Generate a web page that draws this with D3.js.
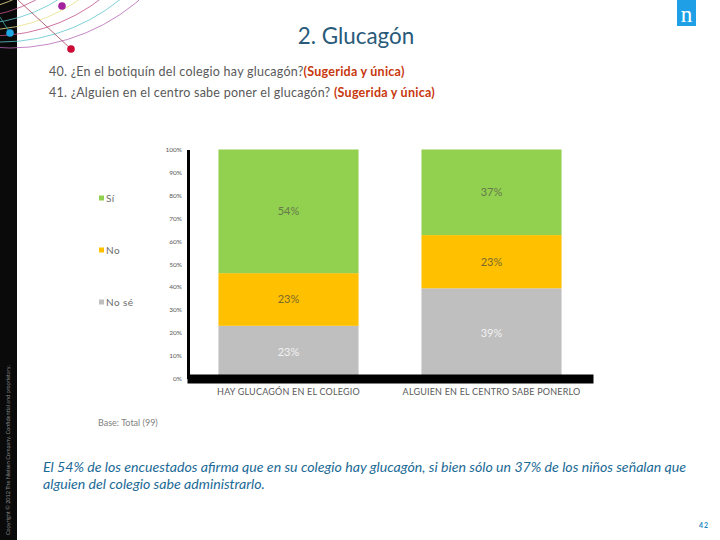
<!DOCTYPE html>
<html>
<head>
<meta charset="utf-8">
<script src="https://cdn.jsdelivr.net/npm/d3@7"></script>
<style>
  html, body { margin: 0; padding: 0; background: #fff; }
  svg { display: block; }
  text { font-family: Lato, "Open Sans", sans-serif; }
</style>
</head>
<body>
<div id="chart"></div>
<script>
// Data
const categories = ["HAY GLUCAGÓN EN EL COLEGIO", "ALGUIEN EN EL CENTRO SABE PONERLO"];
const seriesNames = ["No sé", "No", "Sí"];
const noSeValues = [23, 39];
const noValues = [23, 23];
const siValues = [54, 37];
const tickValues = [0, 0.1, 0.2, 0.3, 0.4, 0.5, 0.6, 0.7, 0.8, 0.9, 1];

const title = "2. Glucagón";
const questions = [
  ["40. ¿En el botiquín del colegio hay glucagón?", "(Sugerida y única)"],
  ["41. ¿Alguien en el centro sabe poner el glucagón? ", "(Sugerida y única)"]
];
const baseNote = "Base: Total (99)";
const conclusion = [
  "El 54% de los encuestados afirma que en su colegio hay glucagón, si bien sólo un 37% de los niños señalan que",
  "alguien del colegio sabe administrarlo."
];
const copyright = "Copyright © 2012 The Nielsen Company. Confidential and proprietary.";

// SVG constants
const width = 720, height = 540;
const colors = { "Sí": "#92D050", "No": "#FFC000", "No sé": "#BFBFBF" };
const legendY = { "Sí": 198, "No": 250, "No sé": 302 };
const labelColors = { "Sí": "#667a4c", "No": "#7a6a2a", "No sé": "#f2f2f2" };

const svg = d3.select("#chart").append("svg")
  .attr("width", width)
  .attr("height", height);

// Left strip and decoration
svg.append("rect")
  .attr("width", 17).attr("height", height)
  .attr("fill", "#0a0a0a");

svg.append("text")
  .attr("transform", "translate(10,535) rotate(-90)")
  .attr("font-size", 5.5)
  .attr("fill", "#8a8a8a")
  .text(copyright);

const arcColors = ["#b566b5", "#5fc4cf", "#c0508a", "#e8e08a", "#5fc4cf", "#c0508a", "#f0e48c", "#5fc4cf", "#b566b5"];
svg.selectAll("circle.arc")
  .data(arcColors)
  .join("circle")
  .attr("class", "arc")
  .attr("cx", (d, i) => 10 - i * 9)
  .attr("cy", (d, i) => -150 + i * 4)
  .attr("r", (d, i) => 198 - i * 10)
  .attr("fill", "none")
  .attr("stroke", d => d)
  .attr("stroke-width", 0.8);

svg.append("line")
  .attr("x1", 18).attr("y1", 0).attr("x2", 71).attr("y2", 49)
  .attr("stroke", "#a0405a").attr("stroke-width", 0.8);
svg.append("line")
  .attr("x1", 0).attr("y1", 17).attr("x2", 10).attr("y2", 33)
  .attr("stroke", "#3fb0b0").attr("stroke-width", 0.8);

svg.append("circle").attr("cx", 62).attr("cy", 6).attr("r", 3.8).attr("fill", "#a3209f");
svg.append("circle").attr("cx", 10).attr("cy", 33).attr("r", 3.8).attr("fill", "#1ea7e6");
svg.append("circle").attr("cx", 71).attr("cy", 49).attr("r", 3.8).attr("fill", "#cc0a35");

// Logo
svg.append("rect")
  .attr("x", 677).attr("y", 0).attr("width", 19).attr("height", 26)
  .attr("fill", "#1e9fe6");
svg.append("text")
  .attr("x", 686.5).attr("y", 22)
  .attr("text-anchor", "middle")
  .attr("font-size", 23)
  .attr("fill", "#fff")
  .style("font-family", "'Liberation Serif', serif")
  .text("n");

// Headings
svg.append("text")
  .attr("x", 356).attr("y", 44)
  .attr("text-anchor", "middle")
  .attr("font-size", 22.4)
  .attr("fill", "#2a5a7a")
  .text(title);

questions.forEach((q, i) => {
  const t = svg.append("text")
    .attr("x", 49).attr("y", 76 + i * 21)
    .attr("font-size", 12.5)
    .attr("letter-spacing", 0.25)
    .attr("fill", "#595959");
  t.append("tspan").text(q[0]);
  t.append("tspan").attr("fill", "#c8380e").attr("font-weight", 700).text(q[1]);
});

// Scales
const x = d3.scaleBand()
  .domain(categories)
  .range([187, 593])
  .paddingInner(0.31)
  .paddingOuter(0.155);

const y = d3.scaleLinear()
  .domain([0, 1])
  .range([378.5, 149.5]);

// Bars, each column scaled to its own total
const rows = categories.map((c, i) => ({
  category: c,
  "No sé": noSeValues[i],
  "No": noValues[i],
  "Sí": siValues[i]
}));

const stacked = d3.stack()
  .keys(seriesNames)
  .offset(d3.stackOffsetExpand)(rows);

const layers = svg.selectAll("g.layer")
  .data(stacked)
  .join("g")
  .attr("class", "layer")
  .attr("fill", d => colors[d.key]);

layers.selectAll("rect")
  .data(d => d)
  .join("rect")
  .attr("x", d => x(d.data.category))
  .attr("y", d => y(d[1]))
  .attr("width", x.bandwidth())
  .attr("height", d => y(d[0]) - y(d[1]));

layers.each(function (layer) {
  d3.select(this).selectAll("text")
    .data(layer)
    .join("text")
    .attr("x", d => x(d.data.category) + x.bandwidth() / 2)
    .attr("y", d => (y(d[0]) + y(d[1])) / 2)
    .attr("dy", "0.35em")
    .attr("text-anchor", "middle")
    .attr("font-size", 11)
    .attr("fill", labelColors[layer.key])
    .text(d => d.data[layer.key] + "%");
});

// Axes
const yAxis = svg.append("g")
  .attr("transform", "translate(188,0)")
  .call(d3.axisLeft(y).tickValues(tickValues).tickFormat(d3.format(".0%")).tickSize(0).tickPadding(6));
yAxis.select(".domain").attr("stroke", "#000").attr("stroke-width", 3);
yAxis.selectAll("text")
  .attr("font-size", 6.5)
  .attr("fill", "#595959")
  .style("font-family", "Lato, 'Open Sans', sans-serif");

const xAxis = svg.append("g")
  .attr("transform", "translate(0,378.5)")
  .call(d3.axisBottom(x).tickSize(0).tickPadding(10).tickSizeOuter(0));
xAxis.select(".domain").attr("stroke", "#000").attr("stroke-width", 9);
xAxis.selectAll("text")
  .attr("font-size", 9)
  .attr("letter-spacing", 0.2)
  .attr("fill", "#595959")
  .style("font-family", "Lato, 'Open Sans', sans-serif");

// Legend
const legend = svg.selectAll("g.legend")
  .data(seriesNames)
  .join("g")
  .attr("class", "legend")
  .attr("transform", d => `translate(99,${legendY[d]})`);
legend.append("rect")
  .attr("y", -2.5).attr("width", 5).attr("height", 5)
  .attr("fill", d => colors[d]);
legend.append("text")
  .attr("x", 7).attr("dy", "0.35em")
  .attr("font-size", 10)
  .attr("letter-spacing", 0.4)
  .attr("fill", "#6b6b6b")
  .text(d => d);

// Notes
svg.append("text")
  .attr("x", 98).attr("y", 426)
  .attr("font-size", 9)
  .attr("fill", "#7f7f7f")
  .text(baseNote);

svg.selectAll("text.conclusion")
  .data(conclusion)
  .join("text")
  .attr("class", "conclusion")
  .attr("x", 43)
  .attr("y", (d, i) => 472 + i * 17)
  .attr("font-size", 14.15)
  .attr("font-style", "italic")
  .attr("fill", "#1b6a96")
  .text(d => d);

svg.append("text")
  .attr("x", 704).attr("y", 528)
  .attr("text-anchor", "middle")
  .attr("font-size", 7)
  .attr("font-weight", 700)
  .attr("letter-spacing", 1)
  .attr("fill", "#1e86c0")
  .text("42");
</script>
</body>
</html>
